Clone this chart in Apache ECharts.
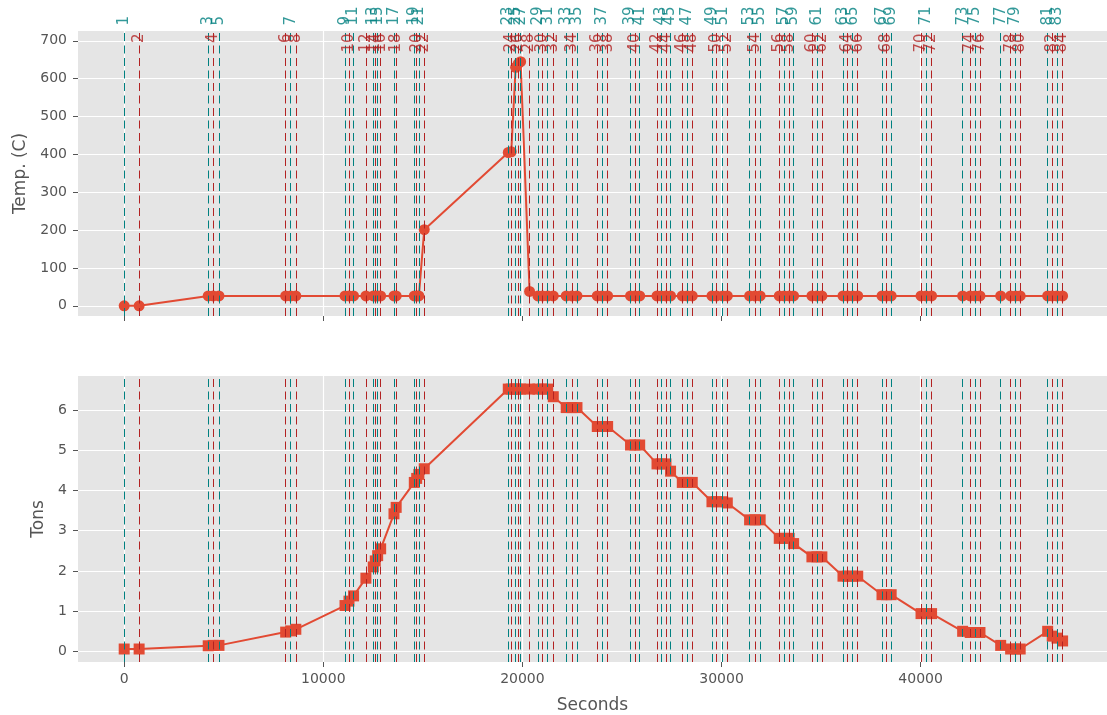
<!DOCTYPE html>
<html lang="en">
<head>
<meta charset="UTF-8">
<title>Temp / Tons</title>
<script src="https://cdn.jsdelivr.net/npm/echarts@6/dist/echarts.min.js"></script>
<style>
  html, body { margin: 0; padding: 0; background: #fff; }
  #chart { width: 1107px; height: 715px; }
</style>
</head>
<body>
<div id="chart"></div>
<script>
// event times (seconds), one dashed line per event, numbered from 1
const eventTimes = [
  0, 750, 4220, 4470, 4760, 8110, 8360, 8620, 11090, 11290,
  11520, 12140, 12510, 12610, 12730, 12880, 13550, 13660, 14570, 14690,
  14800, 15070, 19290, 19440, 19660, 19790, 19910, 20360, 20780, 21010,
  21270, 21550, 22200, 22490, 22740, 23760, 24010, 24280, 25430, 25650,
  25890, 26760, 26970, 27210, 27440, 28030, 28280, 28530, 29520, 29750,
  30060, 30290, 31410, 31680, 31940, 32900, 33150, 33400, 33620, 34540,
  34790, 35040, 36100, 36330, 36590, 36840, 38060, 38290, 38520, 40020,
  40280, 40550, 42110, 42490, 42740, 42980, 44020, 44520, 44770, 45000,
  46380, 46610, 46850, 47130
];

// temperature at each event (C)
const temps = [
  0, 0, 26, 26, 26, 26, 26, 26, 26, 26,
  26, 26, 26, 26, 26, 26, 26, 26, 26, 26,
  26, 201, 405, 407, 630, 640, 645, 38, 26, 26,
  26, 26, 26, 26, 26, 26, 26, 26, 26, 26,
  26, 26, 26, 26, 26, 26, 26, 26, 26, 26,
  26, 26, 26, 26, 26, 26, 26, 26, 26, 26,
  26, 26, 26, 26, 26, 26, 26, 26, 26, 26,
  26, 26, 26, 26, 26, 26, 26, 26, 26, 26,
  26, 26, 26, 26
];

// weight at each event (tons)
const tons = [
  0.06, 0.06, 0.14, 0.15, 0.15, 0.48, 0.51, 0.55, 1.14, 1.25,
  1.38, 1.82, 2.10, 2.25, 2.38, 2.55, 3.42, 3.58, 4.20, 4.30,
  4.40, 4.54, 6.52, 6.52, 6.52, 6.52, 6.52, 6.52, 6.52, 6.52,
  6.52, 6.33, 6.06, 6.06, 6.06, 5.59, 5.59, 5.59, 5.13, 5.13,
  5.13, 4.66, 4.66, 4.66, 4.48, 4.20, 4.20, 4.20, 3.72, 3.72,
  3.72, 3.69, 3.27, 3.27, 3.27, 2.81, 2.81, 2.81, 2.68, 2.35,
  2.35, 2.35, 1.87, 1.87, 1.87, 1.87, 1.41, 1.41, 1.41, 0.94,
  0.94, 0.94, 0.50, 0.47, 0.47, 0.47, 0.15, 0.06, 0.06, 0.06,
  0.50, 0.38, 0.33, 0.26
];

const secondTicks = [0, 10000, 20000, 30000, 40000];
const tempTicks = [0, 100, 200, 300, 400, 500, 600, 700];
const tonTicks = [0, 1, 2, 3, 4, 5, 6];

const TEAL = '#008080';
const RED = '#b22222';
const LINE = '#E24A33';
const FONT = 'DejaVu Sans';

const xMin = -2320, xMax = 49360;
const tempMin = -27, tempMax = 726;
const tonMin = -0.263, tonMax = 6.845;

function pairs(ys) {
  return eventTimes.map((t, i) => [t, ys[i]]);
}

// dashed vertical line for every event, odd teal / even red
const eventMarks = eventTimes.map((t, i) => ({
  xAxis: t,
  lineStyle: { color: i % 2 === 0 ? TEAL : RED }
}));

function markLineOpt() {
  return {
    silent: true,
    symbol: ['none', 'none'],
    label: { show: false },
    lineStyle: { type: [8, 4.5], width: 1, opacity: 1 },
    data: eventMarks
  };
}

// label points sit on the top edge of the upper plot
const oddLabels = [], evenLabels = [];
eventTimes.forEach((t, i) => {
  if (i % 2 === 0) oddLabels.push([t, tempMax, i + 1]);
  else evenLabels.push([t, tempMax, i + 1]);
});

function xAxisOpt(idx, withLabels) {
  return {
    type: 'value', gridIndex: idx, min: xMin, max: xMax,
    axisLine: { show: false, onZero: false },
    axisTick: { show: true, length: 5, customValues: secondTicks, lineStyle: { color: '#555' } },
    axisLabel: {
      show: withLabels, customValues: secondTicks, formatter: v => String(v),
      color: '#555', fontSize: 14, fontFamily: FONT, margin: 10
    },
    splitLine: { show: true, lineStyle: { color: '#fff', width: 1.2 } },
    name: withLabels ? 'Seconds' : '',
    nameLocation: 'middle', nameGap: 35,
    nameTextStyle: { color: '#555', fontSize: 17, fontFamily: FONT }
  };
}

function yAxisOpt(idx, name, min, max, ticks, gap) {
  return {
    type: 'value', gridIndex: idx, min: min, max: max,
    axisLine: { show: false, onZero: false },
    axisTick: { show: true, length: 5, customValues: ticks, lineStyle: { color: '#555' } },
    axisLabel: {
      customValues: ticks, formatter: v => String(v),
      color: '#555', fontSize: 14, fontFamily: FONT, margin: 11
    },
    splitLine: { show: true, lineStyle: { color: '#fff', width: 1.2 } },
    name: name, nameLocation: 'middle', nameGap: gap,
    nameTextStyle: { color: '#555', fontSize: 17, fontFamily: FONT }
  };
}

const chart = echarts.init(document.getElementById('chart'), null, { renderer: 'canvas' });

chart.setOption({
  animation: false,
  grid: [
    { left: 78, top: 31, width: 1029, height: 285, show: true, backgroundColor: '#E5E5E5', borderWidth: 0 },
    { left: 78, top: 376, width: 1029, height: 286, show: true, backgroundColor: '#E5E5E5', borderWidth: 0 }
  ],
  xAxis: [xAxisOpt(0, false), xAxisOpt(1, true)],
  yAxis: [
    yAxisOpt(0, 'Temp. (C)', tempMin, tempMax, tempTicks, 48),
    yAxisOpt(1, 'Tons', tonMin, tonMax, tonTicks, 30)
  ],
  series: [
    {
      name: 'temp', type: 'line', xAxisIndex: 0, yAxisIndex: 0, z: 2,
      data: pairs(temps),
      symbol: 'circle', symbolSize: 11, showSymbol: true,
      lineStyle: { color: LINE, width: 2 },
      itemStyle: { color: LINE, opacity: 1 }
    },
    {
      name: 'tons', type: 'line', xAxisIndex: 1, yAxisIndex: 1, z: 2,
      data: pairs(tons),
      symbol: 'rect', symbolSize: 11, showSymbol: true,
      lineStyle: { color: LINE, width: 2 },
      itemStyle: { color: LINE, opacity: 1 }
    },
    {
      name: 'odd', type: 'scatter', xAxisIndex: 0, yAxisIndex: 0, z: 5, clip: false,
      data: oddLabels, symbolSize: 1,
      itemStyle: { color: 'rgba(0,0,0,0)' },
      label: {
        show: true, formatter: p => String(p.value[2]),
        position: 'top', distance: 5, rotate: 90, align: 'left', verticalAlign: 'middle',
        color: TEAL, fontSize: 15, fontFamily: FONT
      },
      markLine: markLineOpt()
    },
    {
      name: 'even', type: 'scatter', xAxisIndex: 0, yAxisIndex: 0, z: 5, clip: false,
      data: evenLabels, symbolSize: 1,
      itemStyle: { color: 'rgba(0,0,0,0)' },
      label: {
        show: true, formatter: p => String(p.value[2]),
        position: 'bottom', distance: 2, rotate: 90, align: 'right', verticalAlign: 'middle',
        color: RED, fontSize: 15, fontFamily: FONT
      }
    },
    {
      name: 'events2', type: 'scatter', xAxisIndex: 1, yAxisIndex: 1, z: 5, clip: false,
      data: eventTimes.map(t => [t, tonMin]), symbolSize: 0,
      itemStyle: { color: 'rgba(0,0,0,0)' },
      markLine: markLineOpt()
    }
  ]
});
</script>
</body>
</html>
